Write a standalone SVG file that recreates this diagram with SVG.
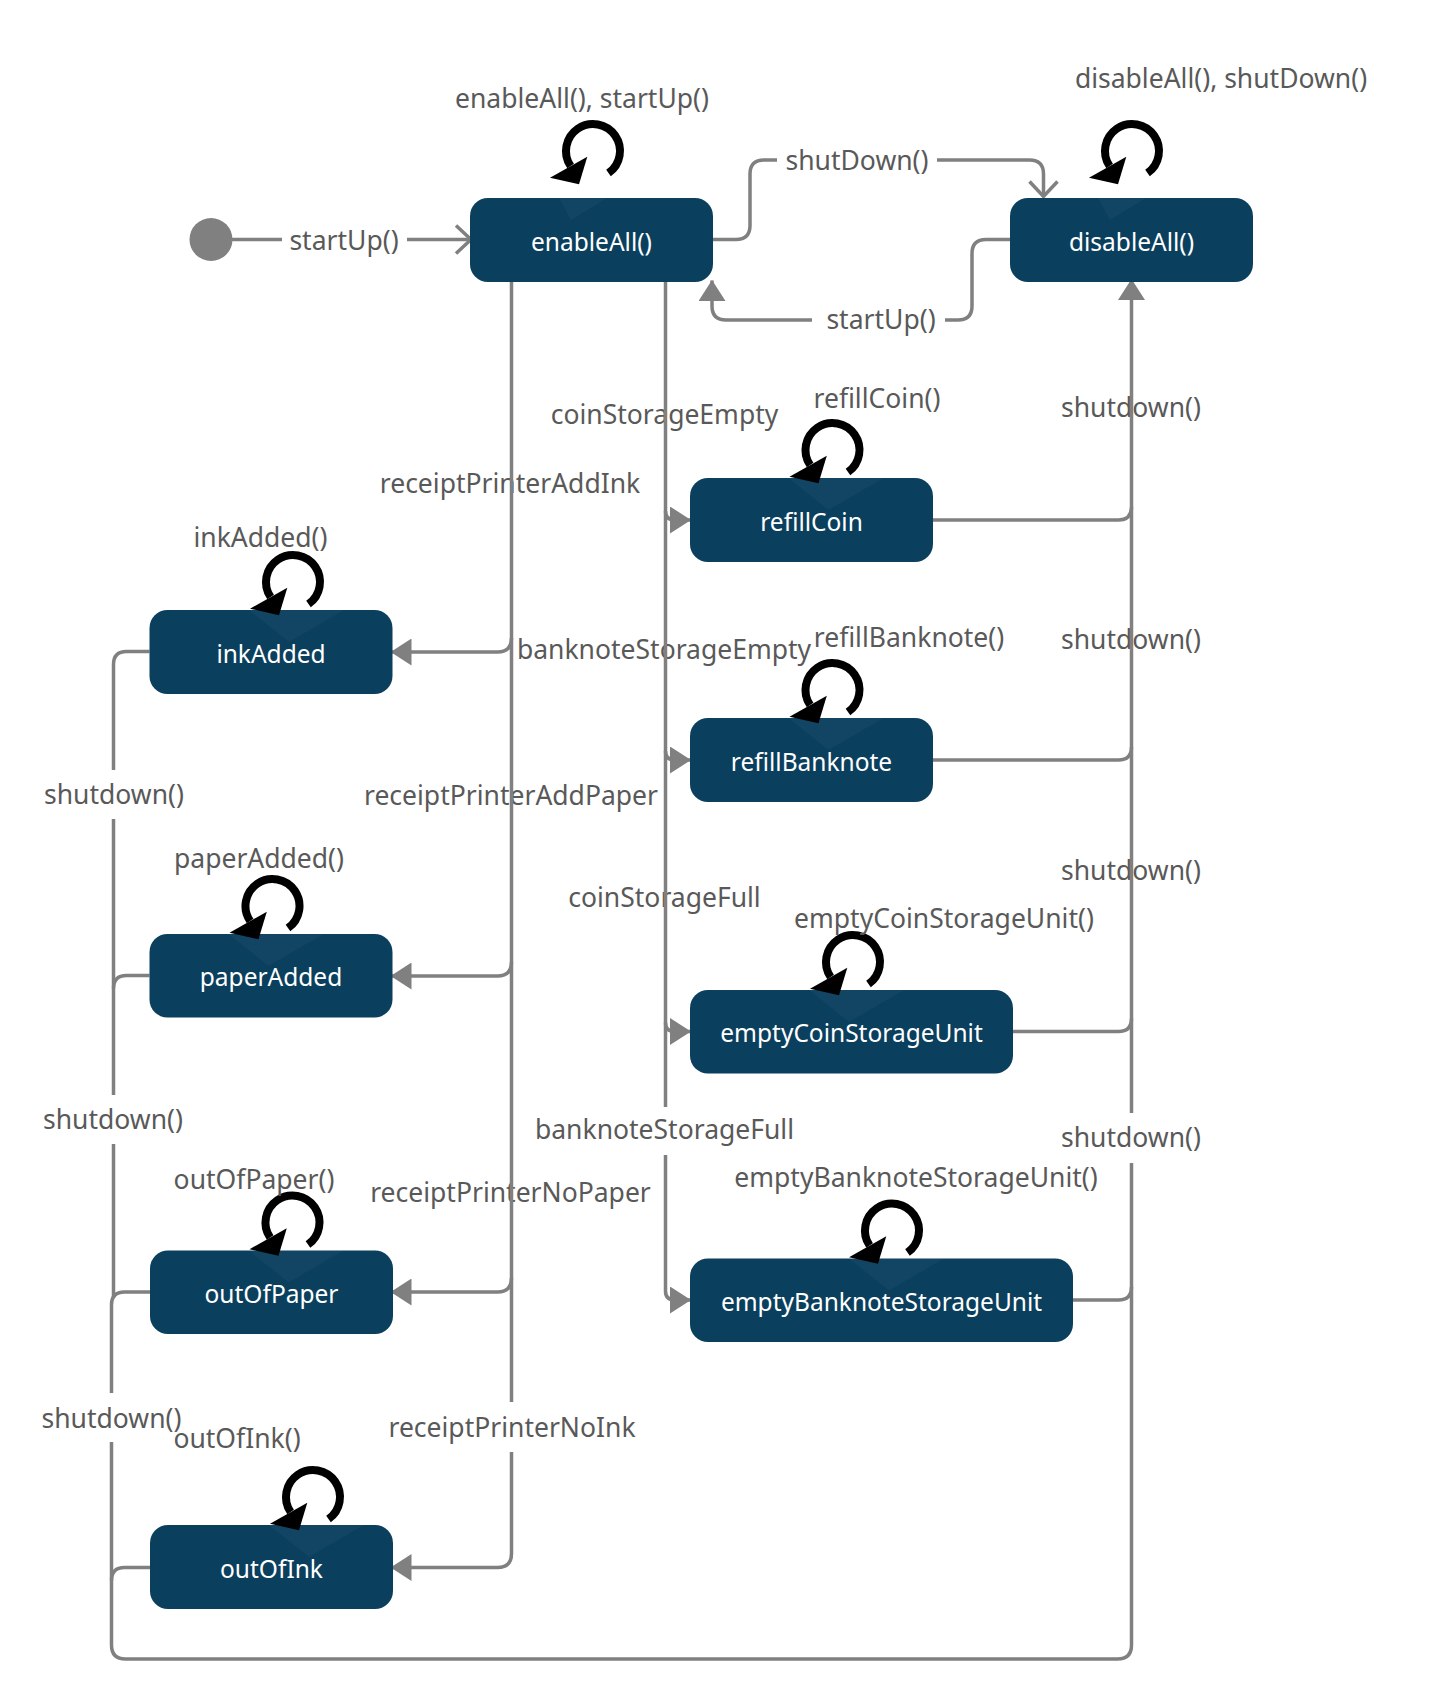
<svg xmlns="http://www.w3.org/2000/svg" xmlns:xlink="http://www.w3.org/1999/xlink" width="1432" height="1698" viewBox="0 0 1432 1698">
<style>
.node rect{fill:#0b3f5e}
.node .sh{fill:#ffffff;fill-opacity:0.03}
.nt{fill:#ffffff;font-family:"Noto Sans","Open Sans",sans-serif;font-size:24.5px;text-anchor:middle}
.conn path.l{fill:none;stroke:#808080;stroke-width:3.5}
.lbl{fill:#595959;font-family:"Noto Sans","Open Sans",sans-serif;font-size:26.5px;text-anchor:middle}
</style>
<defs>
<marker id="fa" markerUnits="userSpaceOnUse" viewBox="0 0 21 27" refX="20.5" refY="13.5" markerWidth="21" markerHeight="27" orient="auto">
<path d="M0,0 L21,13.5 L0,27 Z" fill="#808080"/>
</marker>
<marker id="oa" markerUnits="userSpaceOnUse" viewBox="-3 -3 21 34" refX="15" refY="14" markerWidth="21" markerHeight="34" orient="auto" overflow="visible">
<path d="M0,0 L15,14 L0,28" fill="none" stroke="#808080" stroke-width="3.5"/>
</marker>
<g id="loop">
<path d="M15.5,22.1 A27,27 0 1 0 -22.4,15.1" fill="none" stroke="#000" stroke-width="8"/>
<polygon points="-43,26.7 -5.7,5.7 -14,33.3" fill="#000"/>
</g>
</defs>
<rect width="1432" height="1698" fill="#ffffff"/>

<g id="connectors" class="conn">
<!-- labels that the lines pass over -->
<text class="lbl" x="510" y="493">receiptPrinterAddInk</text>
<text class="lbl" x="511" y="805">receiptPrinterAddPaper</text>
<text class="lbl" x="510.5" y="1202">receiptPrinterNoPaper</text>
<text class="lbl" x="664.5" y="423.5">coinStorageEmpty</text>
<text class="lbl" x="664" y="658.5">banknoteStorageEmpty</text>
<text class="lbl" x="664.5" y="907">coinStorageFull</text>
<text class="lbl" x="1131" y="416.5">shutdown()</text>
<text class="lbl" x="1131" y="648.5">shutdown()</text>
<text class="lbl" x="1131" y="879.5">shutdown()</text>

<!-- initial -> enableAll -->
<path class="l" d="M232,239.5 H282"/>
<path class="l" d="M407,239.5 H471" marker-end="url(#oa)"/>
<text class="lbl" x="344" y="250">startUp()</text>

<!-- enableAll -> disableAll : shutDown() -->
<path class="l" d="M713,239.5 H736 Q750,239.5 750,225.5 V174 Q750,160 764,160 H777"/>
<path class="l" d="M937,160 H1029.5 Q1043.5,160 1043.5,174 V196.5" marker-end="url(#oa)"/>
<text class="lbl" x="857" y="169.5">shutDown()</text>

<!-- disableAll -> enableAll : startUp() -->
<path class="l" d="M1010,239.5 H986 Q972,239.5 972,253.5 V306 Q972,320 958,320 H945"/>
<path class="l" d="M812,320 H726 Q712,320 712,306 V280.5" marker-end="url(#fa)"/>
<text class="lbl" x="881" y="328.5">startUp()</text>

<!-- enableAll -> left printer states -->
<path class="l" d="M511.5,282 V1402"/>
<path class="l" d="M511.5,638 Q511.5,652 497.5,652 H391" marker-end="url(#fa)"/>
<path class="l" d="M511.5,962 Q511.5,976 497.5,976 H391" marker-end="url(#fa)"/>
<path class="l" d="M511.5,1278 Q511.5,1292 497.5,1292 H391" marker-end="url(#fa)"/>
<path class="l" d="M511.5,1452 V1553.5 Q511.5,1567.5 497.5,1567.5 H391" marker-end="url(#fa)"/>
<text class="lbl" x="512" y="1436.5">receiptPrinterNoInk</text>

<!-- enableAll -> storage states -->
<path class="l" d="M665.5,282 V1107"/>
<path class="l" d="M665.5,511 Q665.5,520 674.5,520 H690.5" marker-end="url(#fa)"/>
<path class="l" d="M665.5,751 Q665.5,760 674.5,760 H690.5" marker-end="url(#fa)"/>
<path class="l" d="M665.5,1022.5 Q665.5,1031.5 674.5,1031.5 H690.5" marker-end="url(#fa)"/>
<path class="l" d="M665.5,1155 V1291 Q665.5,1300 674.5,1300 H690.5" marker-end="url(#fa)"/>
<text class="lbl" x="664.5" y="1138.5">banknoteStorageFull</text>

<!-- shutdown() -> disableAll, right side -->
<path class="l" d="M1131.5,1113 V279.5" marker-end="url(#fa)"/>
<path class="l" d="M933,520 H1118.5 Q1131.5,520 1131.5,507"/>
<path class="l" d="M933,760 H1118.5 Q1131.5,760 1131.5,747"/>
<path class="l" d="M1013,1031.5 H1118.5 Q1131.5,1031.5 1131.5,1018.5"/>
<path class="l" d="M1073,1300 H1118.5 Q1131.5,1300 1131.5,1287"/>
<text class="lbl" x="1131" y="1147">shutdown()</text>

<!-- shutdown() from left printer states -->
<path class="l" d="M149.5,651.5 H126.5 Q113.5,651.5 113.5,664.5 V770"/>
<text class="lbl" x="114" y="804">shutdown()</text>
<path class="l" d="M113.5,819 V1095"/>
<path class="l" d="M149.5,975.5 H126.5 Q113.5,975.5 113.5,988.5"/>
<text class="lbl" x="113" y="1129">shutdown()</text>
<path class="l" d="M113.5,1144 V1298"/>
<path class="l" d="M150,1292 H124.5 Q111.5,1292 111.5,1305 V1393"/>
<text class="lbl" x="111.5" y="1427.5">shutdown()</text>
<path class="l" d="M111.5,1442 V1645 Q111.5,1659 125.5,1659 H1117.5 Q1131.5,1659 1131.5,1645 V1163"/>
<path class="l" d="M150,1567.5 H124.5 Q111.5,1567.5 111.5,1580.5"/>
</g>

<g id="initial">
<circle cx="211" cy="239.5" r="21.5" fill="#808080"/>
</g>

<g id="enableAll" class="node">
<rect x="470" y="198" width="243" height="84" rx="18"/>
<polygon class="sh" points="559,198 607,198 571,220"/>
<text class="nt" x="591.5" y="250.5">enableAll()</text>
<use xlink:href="#loop" x="593" y="151"/>
<text class="lbl" x="582" y="108">enableAll(), startUp()</text>
</g>

<g id="disableAll" class="node">
<rect x="1010" y="198" width="243" height="84" rx="18"/>
<polygon class="sh" points="1098,198 1146,198 1110,220"/>
<text class="nt" x="1131.5" y="250.5">disableAll()</text>
<use xlink:href="#loop" x="1132" y="151"/>
<text class="lbl" x="1221" y="88">disableAll(), shutDown()</text>
</g>

<g id="refillCoin" class="node">
<rect x="690" y="478" width="243" height="84" rx="18"/>
<polygon class="sh" points="788.5,478 883.5,478 828.5,510"/>
<text class="nt" x="811.5" y="530.5">refillCoin</text>
<use xlink:href="#loop" x="832.5" y="450"/>
<text class="lbl" x="877" y="408">refillCoin()</text>
</g>

<g id="refillBanknote" class="node">
<rect x="690" y="718" width="243" height="84" rx="18"/>
<polygon class="sh" points="788.5,718 883.5,718 828.5,750"/>
<text class="nt" x="811.5" y="770.5">refillBanknote</text>
<use xlink:href="#loop" x="832.5" y="690"/>
<text class="lbl" x="909" y="647">refillBanknote()</text>
</g>

<g id="emptyCoinStorageUnit" class="node">
<rect x="690" y="990" width="323" height="83.5" rx="18"/>
<polygon class="sh" points="809,990 904,990 849,1022"/>
<text class="nt" x="851.5" y="1042">emptyCoinStorageUnit</text>
<use xlink:href="#loop" x="853" y="962"/>
<text class="lbl" x="944" y="927.5">emptyCoinStorageUnit()</text>
</g>

<g id="emptyBanknoteStorageUnit" class="node">
<rect x="690" y="1258.5" width="383" height="83.5" rx="18"/>
<polygon class="sh" points="849,1258.5 944,1258.5 889,1290.5"/>
<text class="nt" x="881.5" y="1310.5">emptyBanknoteStorageUnit</text>
<use xlink:href="#loop" x="892" y="1230.5"/>
<text class="lbl" x="916" y="1187">emptyBanknoteStorageUnit()</text>
</g>

<g id="inkAdded" class="node">
<rect x="149.5" y="610" width="243" height="84" rx="18"/>
<polygon class="sh" points="249,610 344,610 289,642"/>
<text class="nt" x="271" y="662.5">inkAdded</text>
<use xlink:href="#loop" x="293" y="582"/>
<text class="lbl" x="260.5" y="547">inkAdded()</text>
</g>

<g id="paperAdded" class="node">
<rect x="149.5" y="934" width="243" height="83.5" rx="18"/>
<polygon class="sh" points="228.5,934 323.5,934 268.5,966"/>
<text class="nt" x="271" y="986">paperAdded</text>
<use xlink:href="#loop" x="272.5" y="906"/>
<text class="lbl" x="259" y="868">paperAdded()</text>
</g>

<g id="outOfPaper" class="node">
<rect x="150" y="1250.5" width="243" height="83.5" rx="18"/>
<polygon class="sh" points="248.5,1250.5 343.5,1250.5 288.5,1282.5"/>
<text class="nt" x="271.5" y="1302.5">outOfPaper</text>
<use xlink:href="#loop" x="292.5" y="1222.5"/>
<text class="lbl" x="254" y="1188.5">outOfPaper()</text>
</g>

<g id="outOfInk" class="node">
<rect x="150" y="1525" width="243" height="84" rx="18"/>
<polygon class="sh" points="269,1525 364,1525 309,1557"/>
<text class="nt" x="271.5" y="1577.5">outOfInk</text>
<use xlink:href="#loop" x="313" y="1497"/>
<text class="lbl" x="237" y="1447.5">outOfInk()</text>
</g>
</svg>
